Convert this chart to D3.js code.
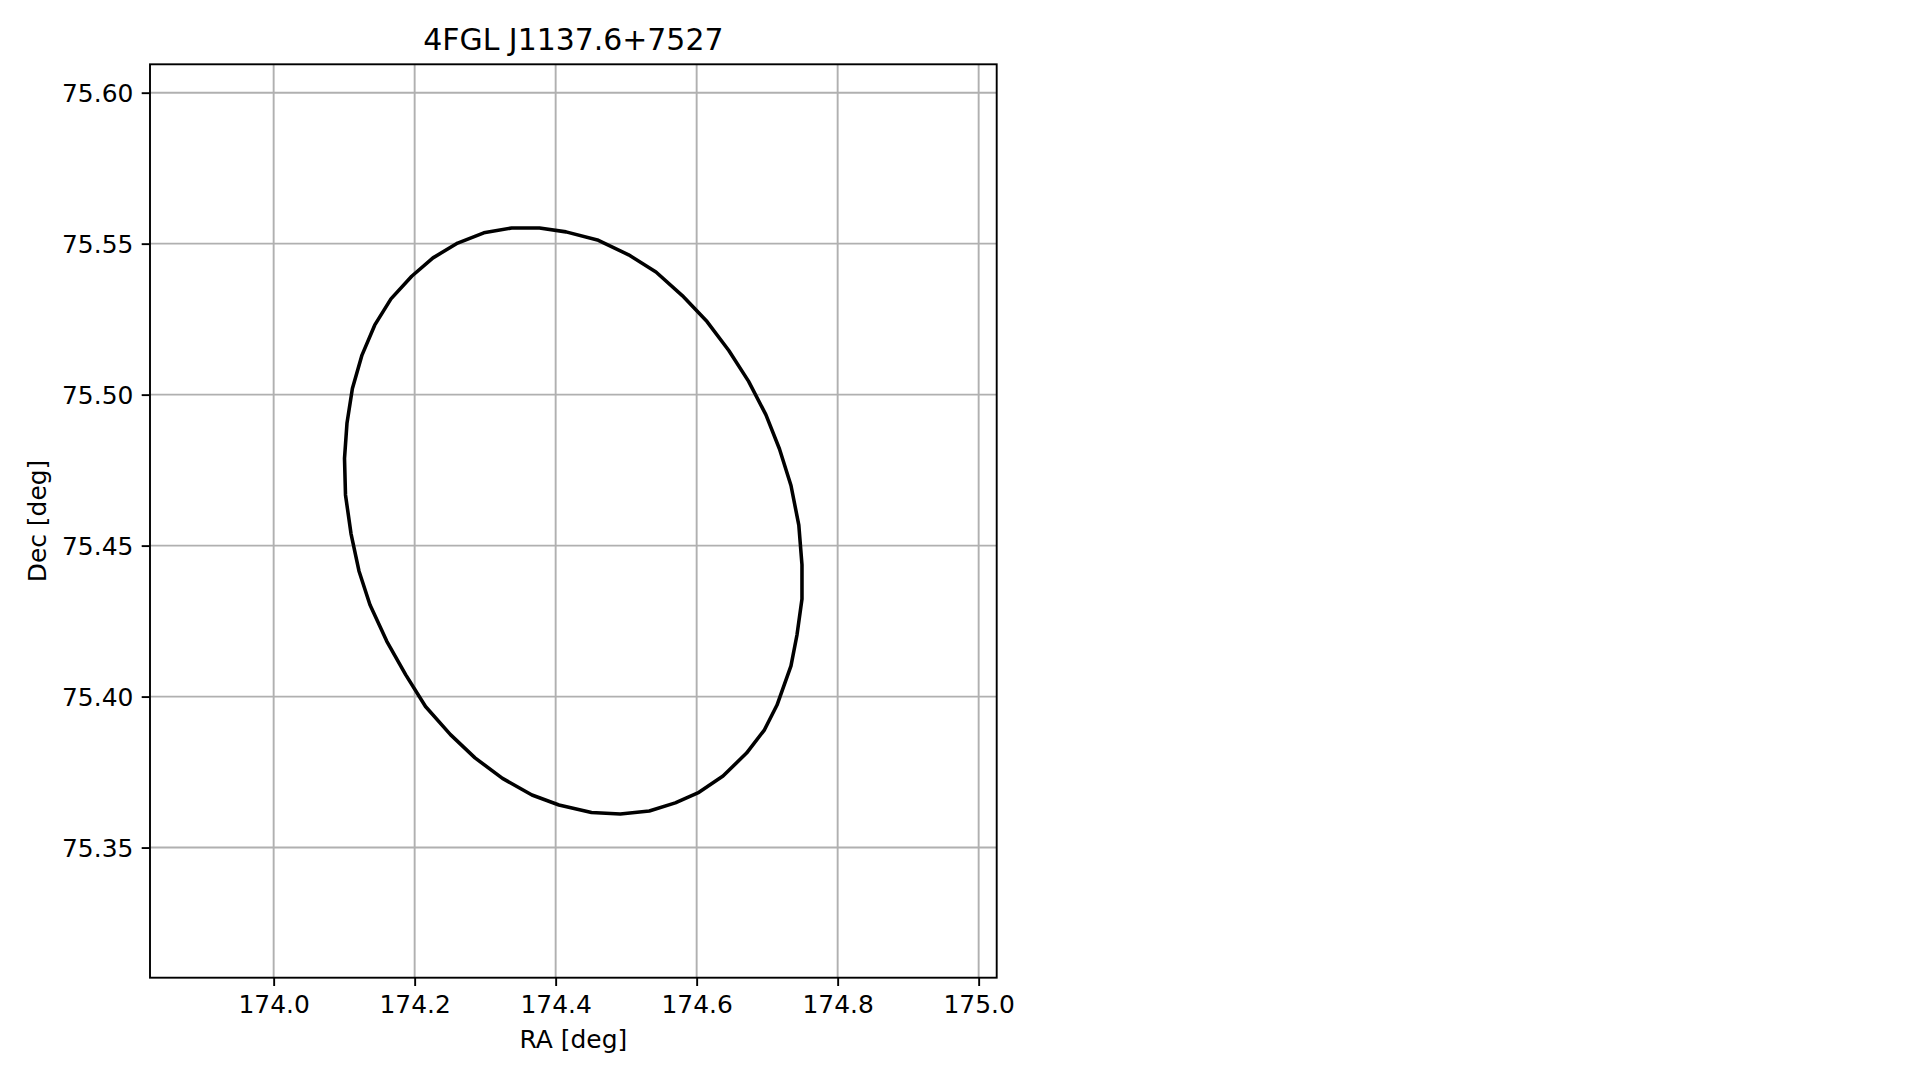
<!DOCTYPE html>
<html>
<head>
<meta charset="utf-8">
<script src="https://cdn.jsdelivr.net/npm/d3@7"></script>
<style>
  html, body { margin: 0; padding: 0; background: #fff; }
  svg { display: block; font-family: "DejaVu Sans", sans-serif; }
</style>
</head>
<body>
<div id="chart"></div>
<script>
// error ellipse outline, vertices
const ellipseRa = [
  174.3376, 174.3771, 174.4147, 174.4606, 174.5035, 174.5423, 174.5796, 174.6147,
  174.6456, 174.6737, 174.6983, 174.7175, 174.7338, 174.7449, 174.7494, 174.7494,
  174.7423, 174.7338, 174.7140, 174.6962, 174.6708, 174.6374, 174.6033, 174.5697,
  174.5328, 174.4917, 174.4508, 174.4047, 174.3664, 174.3246, 174.2856, 174.2508,
  174.2154, 174.1874, 174.1605, 174.1366, 174.1210, 174.1097, 174.1019, 174.1005,
  174.1040, 174.1117, 174.1253, 174.1433, 174.1664, 174.1958, 174.2260, 174.2610,
  174.2981
];
const ellipseDec = [
  75.5552, 75.5552, 75.5539, 75.5511, 75.5463, 75.5406, 75.5328, 75.5242,
  75.5146, 75.5044, 75.4933, 75.4820, 75.4699, 75.4568, 75.4436, 75.4323,
  75.4204, 75.4102, 75.3972, 75.3890, 75.3813, 75.3737, 75.3683, 75.3648,
  75.3621, 75.3611, 75.3616, 75.3641, 75.3674, 75.3729, 75.3797, 75.3874,
  75.3967, 75.4072, 75.4183, 75.4304, 75.4416, 75.4540, 75.4668, 75.4789,
  75.4905, 75.5020, 75.5131, 75.5230, 75.5317, 75.5392, 75.5453, 75.5502,
  75.5536
];
const raTicks = [174.0, 174.2, 174.4, 174.6, 174.8, 175.0];
const decTicks = [75.35, 75.40, 75.45, 75.50, 75.55, 75.60];
const raLimits = [173.8246, 175.0256];
const decLimits = [75.3069, 75.6094];
const titleText = "4FGL J1137.6+7527";

const width = 1919;
const height = 1080;
const margin = { left: 150, top: 64.3, right: width - 996.7, bottom: height - 977.7 };
const pt = 171 / 72; // px per point
const fontSize = 10.5 * pt;

const svg = d3.select("#chart")
  .append("svg")
  .attr("width", width)
  .attr("height", height)
  .attr("viewBox", `0 0 ${width} ${height}`);

const x = d3.scaleLinear().domain(raLimits).range([margin.left, width - margin.right]);
const y = d3.scaleLinear().domain(decLimits).range([height - margin.bottom, margin.top]);

// grid
const grid = svg.append("g").attr("stroke", "#b0b0b0").attr("stroke-width", 0.8 * pt);
grid.selectAll("line.gx")
  .data(raTicks)
  .join("line")
  .attr("class", "gx")
  .attr("x1", (d) => x(d)).attr("x2", (d) => x(d))
  .attr("y1", y.range()[0]).attr("y2", y.range()[1]);
grid.selectAll("line.gy")
  .data(decTicks)
  .join("line")
  .attr("class", "gy")
  .attr("y1", (d) => y(d)).attr("y2", (d) => y(d))
  .attr("x1", x.range()[0]).attr("x2", x.range()[1]);

// ellipse
const pts = ellipseRa.map((ra, i) => [ra, ellipseDec[i]]);
svg.append("path")
  .datum(pts)
  .attr("fill", "none")
  .attr("stroke", "#000")
  .attr("stroke-width", 1.5 * pt)
  .attr("stroke-linejoin", "round")
  .attr("d", d3.line().x((d) => x(d[0])).y((d) => y(d[1])).curve(d3.curveLinearClosed));

// axes
const xAxis = svg.append("g")
  .attr("transform", `translate(0,${y.range()[0]})`)
  .call(d3.axisBottom(x).tickValues(raTicks).tickFormat(d3.format(".1f"))
    .tickSize(3.5 * pt).tickPadding(3.5 * pt).tickSizeOuter(0));
const yAxis = svg.append("g")
  .attr("transform", `translate(${x.range()[0]},0)`)
  .call(d3.axisLeft(y).tickValues(decTicks).tickFormat(d3.format(".2f"))
    .tickSize(3.5 * pt).tickPadding(3.5 * pt).tickSizeOuter(0));

[xAxis, yAxis].forEach((g) => {
  g.select(".domain").remove();
  g.selectAll(".tick line").attr("stroke", "#000").attr("stroke-width", 0.8 * pt);
  g.selectAll(".tick text")
    .attr("fill", "#000")
    .style("font-family", "DejaVu Sans")
    .style("font-size", `${fontSize}px`);
});
xAxis.selectAll(".tick text").attr("dy", "0.76em");
yAxis.selectAll(".tick text").attr("dy", "0.36em");

// spines
svg.append("rect")
  .attr("x", x.range()[0])
  .attr("y", y.range()[1])
  .attr("width", x.range()[1] - x.range()[0])
  .attr("height", y.range()[0] - y.range()[1])
  .attr("fill", "none")
  .attr("stroke", "#000")
  .attr("stroke-width", 0.8 * pt);

// labels
const cx = (x.range()[0] + x.range()[1]) / 2;
const cy = (y.range()[0] + y.range()[1]) / 2;
svg.append("text")
  .attr("x", cx)
  .attr("y", 50)
  .attr("text-anchor", "middle")
  .style("font-size", `${12.6 * pt}px`)
  .text(titleText);
svg.append("text")
  .attr("x", cx)
  .attr("y", 1048)
  .attr("text-anchor", "middle")
  .style("font-size", `${fontSize}px`)
  .text("RA [deg]");
svg.append("text")
  .attr("transform", `translate(46,${cy}) rotate(-90)`)
  .attr("text-anchor", "middle")
  .style("font-size", `${fontSize}px`)
  .text("Dec [deg]");
</script>
</body>
</html>
